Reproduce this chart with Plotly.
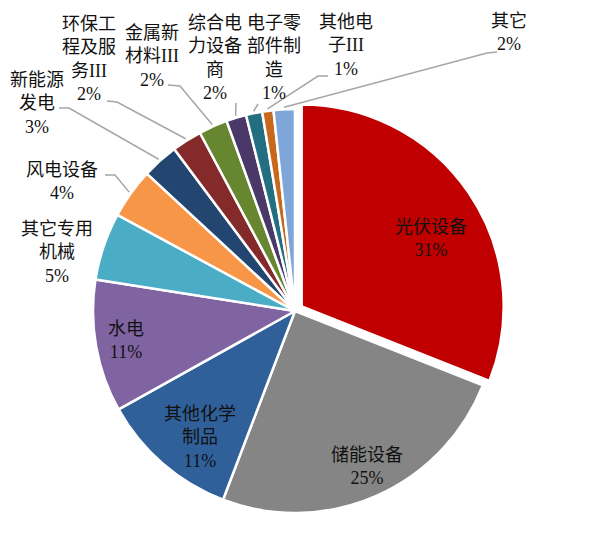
import math
import plotly.graph_objects as go

# ---------------- data ----------------
categories = ["光伏设备", "储能设备", "其他化学制品", "水电", "其它专用机械", "风电设备",
              "新能源发电", "环保工程及服务III", "金属新材料III", "综合电力设备商",
              "电子零部件制造", "其他电子III", "其它"]
shares = [31.0, 24.8, 11.1, 10.6, 5.4, 4.0, 2.9, 2.4, 2.3, 1.6, 1.3, 0.9, 1.7]
display_names = ["光伏设备", "储能设备", "其他化学<br>制品", "水电", "其它专用<br>机械", "风电设备",
                 "新能源<br>发电", "环保工<br>程及服<br>务III", "金属新<br>材料III", "综合电<br>力设备<br>商",
                 "电子零<br>部件制<br>造", "其他电<br>子III", "其它"]
colors = ["#C00000", "#858585", "#30609A", "#8064A2", "#4BACC6", "#F79646",
          "#22466F", "#852A2A", "#66872F", "#4A3868", "#236E80", "#C8681C", "#7FA6D8"]

# ---------------- layout constants ----------------
OFF = 8                      # page body margin
W, H = 603 - OFF, 538 - OFF  # figure size
CX, CY, R = 295, 311, 202    # window pixels
PULL = 0.04
pulls = [PULL] + [0] * (len(categories) - 1)

# label block centres (window pixels) and leader-line start/elbow points
label_pos = [(431, 238), (367, 466), (200, 437), (126, 340), (57, 252), (62, 182),
             (37, 104), (89, 59), (152, 57), (215, 58), (274, 58), (346, 46), (509, 33)]
leader_pts = [None, None, None, None, None, [(105, 175), (115, 175)],
              [(59, 108), (69, 108)], [(107, 101), (117, 102)], [(168, 85), (180, 86)],
              [(236, 103)], [(258, 104)], [(328, 76), (318, 76)], [(497, 52), (487, 53)]]


def px(x):
    return (x - OFF) / W


def py(y):
    return 1 - (y - OFF) / H


half = R * (1 + PULL)
fig = go.Figure(go.Pie(
    labels=categories,
    values=shares,
    sort=False,
    direction="clockwise",
    rotation=0,
    pull=pulls,
    textinfo="none",
    hoverinfo="label+percent",
    marker=dict(colors=colors, line=dict(color="white", width=2.5)),
    domain=dict(x=[px(CX - half), px(CX + half)], y=[py(CY + half), py(CY - half)]),
    showlegend=False,
))

total = sum(shares)
font = dict(family="Liberation Serif, Noto Sans CJK SC, serif", size=18, color="#111111")
annotations = []
shapes = []
cum = 0.0
for name, v, pos, pts in zip(display_names, shares, label_pos, leader_pts):
    pct = round(v / total * 100)
    annotations.append(dict(
        x=px(pos[0]), y=py(pos[1]), xref="paper", yref="paper",
        text=f"{name}<br>{pct}%", showarrow=False, align="center",
        xanchor="center", yanchor="middle", font=font, borderpad=0))
    theta = 2 * math.pi * (cum + v / 2) / total
    cum += v
    if pts:
        ex = CX + (R + 2) * math.sin(theta)
        ey = CY - (R + 2) * math.cos(theta)
        allp = pts + [(ex, ey)]
        path = "M " + " L ".join(f"{px(a):.5f},{py(b):.5f}" for a, b in allp)
        shapes.append(dict(type="path", xref="paper", yref="paper", path=path,
                           line=dict(color="#A6A6A6", width=1.5)))

fig.update_layout(
    width=W, height=H,
    margin=dict(l=0, r=0, t=0, b=0),
    paper_bgcolor="white", plot_bgcolor="white",
    annotations=annotations, shapes=shapes,
)
fig.write_html("out.html")
